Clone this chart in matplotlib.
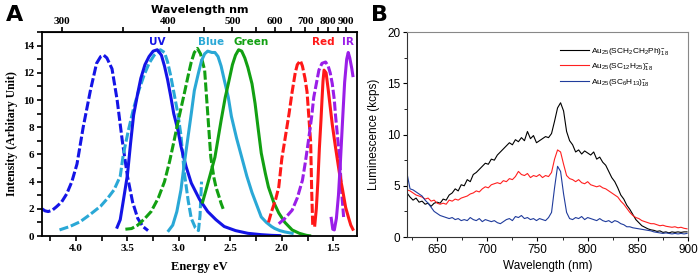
import numpy as np
import matplotlib
matplotlib.use("Agg")
import matplotlib.pyplot as plt
from matplotlib.ticker import MultipleLocator, FixedLocator

# ---------------- panel A data (energy eV, intensity a.u.) ----------------
# dashed = excitation, solid = emission
uv_ex_E = [4.33, 4.30, 4.27, 4.23, 4.19, 4.14, 4.09, 4.04, 3.99, 3.93, 3.86, 3.80, 3.76, 3.73,
           3.70, 3.65, 3.60, 3.55, 3.50, 3.45, 3.40, 3.35, 3.30]
uv_ex_I = [2.0, 1.85, 1.8, 1.9, 2.15, 2.5, 3.1, 4.0, 5.3, 8.0, 10.7, 12.7, 13.2, 13.3,
           13.1, 12.3, 10.0, 7.0, 4.4, 2.5, 1.3, 0.7, 0.4]
uv_em_E = [3.60, 3.57, 3.54, 3.50, 3.47, 3.44, 3.40, 3.37, 3.33, 3.29, 3.25, 3.21, 3.17, 3.14,
           3.11, 3.08, 3.05, 3.01, 2.98, 2.93, 2.88, 2.80, 2.72, 2.64, 2.56, 2.45, 2.33, 2.20,
           2.10, 2.02]
uv_em_I = [0.65, 1.2, 2.6, 4.5, 6.8, 8.9, 10.5, 11.6, 12.6, 13.2, 13.6, 13.7, 13.3, 12.5,
           11.5, 10.3, 9.0, 7.8, 6.6, 5.1, 3.9, 2.7, 1.8, 1.2, 0.7, 0.4, 0.2, 0.1, 0.05, 0.03]

blue_ex_E = [4.16, 4.06, 3.96, 3.86, 3.76, 3.69, 3.63, 3.57, 3.54, 3.49, 3.44, 3.39, 3.34, 3.29,
             3.24, 3.18, 3.14, 3.11, 3.08, 3.05, 3.01, 2.98, 2.95, 2.91, 2.88, 2.84, 2.81, 2.795,
             2.78]
blue_ex_I = [0.45, 0.7, 1.05, 1.6, 2.2, 2.8, 3.4, 4.4, 6.0, 7.8, 9.4, 10.7, 11.8, 12.7,
             13.3, 13.7, 13.5, 12.8, 11.8, 10.6, 9.0, 7.4, 4.8, 2.6, 1.3, 0.6, 0.4, 1.5,
             4.0]
blue_em_E = [3.10, 3.06, 3.02, 2.98, 2.95, 2.915, 2.88, 2.85, 2.81, 2.78, 2.75, 2.72, 2.68, 2.65,
             2.62, 2.59, 2.56, 2.52, 2.49, 2.44, 2.39, 2.34, 2.29, 2.24, 2.20, 2.15, 2.10, 2.07,
             2.02, 1.97, 1.90]
blue_em_I = [0.4, 0.8, 1.8, 3.4, 5.2, 7.1, 9.0, 10.7, 12.0, 12.9, 13.4, 13.6, 13.5, 13.5,
             13.2, 12.5, 11.5, 10.2, 8.8, 7.2, 5.8, 4.4, 3.2, 2.2, 1.4, 1.0, 0.7, 0.56,
             0.4, 0.3, 0.2]

green_ex_E = [3.52, 3.46, 3.40, 3.33, 3.27, 3.20, 3.14, 3.09, 3.05, 3.00, 2.95, 2.91, 2.88, 2.85,
              2.82, 2.79, 2.75, 2.72, 2.69, 2.66, 2.64, 2.61, 2.59, 2.57]
green_ex_I = [0.5, 0.55, 0.8, 1.3, 1.8, 2.8, 4.0, 5.5, 6.9, 8.7, 10.4, 11.8, 12.8, 13.5,
              13.8, 13.4, 12.2, 9.0, 5.8, 4.3, 3.6, 2.9, 2.4, 2.0]
green_em_E = [2.77, 2.74, 2.70, 2.65, 2.59, 2.55, 2.52, 2.48, 2.45, 2.42, 2.39, 2.36, 2.33, 2.29,
              2.26, 2.23, 2.20, 2.16, 2.13, 2.08, 2.03, 1.97, 1.90, 1.83, 1.76, 1.73]
green_em_I = [2.5, 3.3, 4.4, 5.8, 8.5, 10.2, 11.2, 12.6, 13.3, 13.7, 13.6, 13.1, 12.4, 11.2,
              9.75, 7.9, 6.1, 4.6, 3.6, 2.5, 1.7, 1.0, 0.45, 0.2, 0.05, 0.02]

red_ex_E = [2.13, 2.10, 2.06, 2.03, 2.00, 1.97, 1.93, 1.90, 1.87, 1.85, 1.82, 1.80, 1.775, 1.755,
            1.74, 1.72, 1.71, 1.70]
red_ex_I = [1.0, 1.8, 2.7, 3.6, 5.7, 7.1, 9.0, 10.6, 12.0, 12.6, 12.9, 12.5, 11.6, 10.6,
            9.0, 6.9, 3.3, 0.8]
red_em_E = [1.68, 1.665, 1.65, 1.635, 1.62, 1.61, 1.60, 1.59, 1.57, 1.55, 1.53, 1.51, 1.48, 1.44,
            1.41, 1.38, 1.35, 1.33, 1.31]
red_em_I = [0.8, 2.0, 4.0, 6.5, 8.5, 10.0, 11.4, 12.2, 12.0, 10.8, 9.5, 8.2, 6.6, 4.6,
            3.4, 2.1, 1.3, 0.8, 0.5]

ir_ex_E = [2.03, 1.97, 1.90, 1.85, 1.80, 1.77, 1.74, 1.71, 1.69, 1.66, 1.64, 1.61, 1.575, 1.55,
           1.53, 1.51, 1.49, 1.48, 1.46, 1.44, 1.42, 1.40]
ir_ex_I = [0.9, 1.3, 1.9, 2.8, 4.1, 5.5, 7.1, 8.8, 10.2, 11.4, 12.2, 12.7, 12.8, 12.5,
           12.0, 11.2, 10.0, 9.0, 7.4, 5.8, 3.4, 1.4]
ir_em_E = [1.52, 1.505, 1.49, 1.47, 1.45, 1.43, 1.41, 1.39, 1.37, 1.355, 1.34, 1.32, 1.31]
ir_em_I = [1.3, 0.5, 0.45, 1.3, 3.0, 5.6, 8.5, 11.3, 13.0, 13.5, 13.1, 12.3, 11.8]

top_wl_ticks = [300, 400, 500, 600, 700, 800, 900]
top_wl_minor = [350, 450, 550, 650, 750, 850]

# ---------------- panel B data (wavelength nm, kcps), 3 nm steps ----------------
wl = np.arange(620, 900, 3)
lum_ph = [4.3, 3.9, 3.6, 3.8, 3.4, 3.5, 3.2, 3.3, 3.0, 3.3,
          3.4, 3.3, 3.7, 3.6, 4.1, 4.3, 4.7, 4.5, 5.1, 5.0,
          5.6, 5.4, 6.1, 6.3, 6.6, 6.9, 7.2, 7.1, 7.6, 7.5,
          8.0, 8.3, 8.6, 8.9, 9.2, 9.0, 9.5, 9.3, 9.7, 9.4,
          10.3, 9.6, 9.9, 9.2, 9.4, 9.6, 9.8, 9.7, 10.1, 11.3,
          12.6, 13.1, 12.3, 10.3, 9.4, 9.0, 8.3, 8.5, 8.1, 8.4,
          8.2, 8.0, 8.3, 7.6, 7.8, 7.3, 7.0, 6.4, 5.8, 5.4,
          4.8, 4.1, 3.7, 3.1, 2.7, 2.2, 1.7, 1.4, 1.1, 0.95,
          0.8, 0.7, 0.65, 0.55, 0.6, 0.45, 0.5, 0.4, 0.5, 0.45,
          0.5, 0.45, 0.5, 0.5]
lum_c12 = [4.6, 4.5, 4.3, 4.1, 4.0, 3.9, 3.7, 3.8, 3.5, 3.6,
           3.3, 3.2, 3.3, 3.2, 3.6, 3.5, 3.7, 3.6, 3.8, 3.9,
           4.0, 4.2, 4.3, 4.5, 4.4, 4.7, 4.9, 4.8, 5.1, 5.2,
           5.3, 5.2, 5.5, 5.4, 5.7, 5.6, 5.9, 6.4, 6.1, 6.0,
           6.2, 5.8, 6.0, 5.9, 6.1, 5.8, 6.0, 5.9, 6.3, 7.6,
           8.5, 8.3, 7.1, 6.0, 5.7, 5.6, 5.4, 5.6, 5.3, 5.2,
           5.4, 5.1, 5.0, 4.9, 5.0, 4.8, 4.7, 4.5, 4.3, 4.1,
           3.9, 3.5, 3.2, 2.8, 2.4, 2.1, 1.9, 1.8, 1.6, 1.5,
           1.4, 1.3, 1.3, 1.2, 1.1, 1.15, 1.05, 1.0, 0.95, 1.0,
           0.9, 0.95, 0.85, 0.8]
lum_c6 = [6.2, 4.7, 4.6, 4.4, 4.2, 4.0, 3.6, 3.3, 2.9, 2.5,
          2.3, 2.1, 2.0, 1.9, 1.8, 1.9, 1.7, 1.8, 1.6, 1.7,
          1.6, 1.9, 1.7, 1.6, 1.8, 1.5, 1.7, 1.6, 1.5, 1.6,
          1.4, 1.3, 1.5, 1.7, 1.8, 1.6, 2.0, 1.9, 2.1, 1.8,
          1.9, 1.7, 1.8, 1.6, 1.8, 1.7, 1.6, 1.9, 2.4, 4.8,
          6.9, 6.4, 4.2, 2.4, 1.8, 1.7, 1.9, 1.8, 2.0, 1.7,
          1.9, 1.8, 1.7, 1.6, 1.8, 1.6, 1.5, 1.6, 1.4, 1.6,
          1.5, 1.3, 1.2, 1.0, 1.0, 0.9, 0.85, 0.8, 0.75, 0.7,
          0.65, 0.6, 0.5, 0.45, 0.4, 0.35, 0.4, 0.35, 0.3, 0.35,
          0.3, 0.35, 0.3, 0.35]
legend_labels = [r'$\mathregular{Au_{25}(SCH_2CH_2Ph)_{18}^{-}}$',
                 r'$\mathregular{Au_{25}(SC_{12}H_{25})_{18}^{-}}$',
                 r'$\mathregular{Au_{25}(SC_6H_{13})_{18}^{-}}$']

c_uv = '#1414e6'
c_blue = '#2aa8d6'
c_green = '#12a012'
c_red = '#ff1818'
c_ir = '#9a1ee8'

fig = plt.figure(figsize=(6.99, 2.79), dpi=100)

# ======================= panel A =======================
axA = fig.add_axes([0.0601, 0.154, 0.4506, 0.731])
serif = 'Liberation Serif'
lw = 2.2
dash = (3, 0.9)
curves = [(uv_ex_E, uv_ex_I, c_uv, True), (blue_ex_E, blue_ex_I, c_blue, True),
          (uv_em_E, uv_em_I, c_uv, False), (green_ex_E, green_ex_I, c_green, True),
          (blue_em_E, blue_em_I, c_blue, False), (green_em_E, green_em_I, c_green, False),
          (red_ex_E, red_ex_I, c_red, True), (ir_ex_E, ir_ex_I, c_ir, True),
          (red_em_E, red_em_I, c_red, False), (ir_em_E, ir_em_I, c_ir, False)]
for E, I, c, dashed in curves:
    if dashed:
        axA.plot(E, I, color=c, lw=lw, dashes=dash)
    else:
        axA.plot(E, I, color=c, lw=lw)

axA.set_xlim(4.33, 1.27)
axA.set_ylim(0, 15)
axA.xaxis.set_major_locator(FixedLocator([4.0, 3.5, 3.0, 2.5, 2.0, 1.5]))
axA.xaxis.set_minor_locator(MultipleLocator(0.25))
axA.yaxis.set_major_locator(MultipleLocator(2))
axA.yaxis.set_minor_locator(MultipleLocator(1))
axA.tick_params(which='both', direction='out', length=3.5, width=1.2, top=False, right=False)
axA.tick_params(axis='both', labelsize=8, pad=2)
for lab in axA.get_xticklabels() + axA.get_yticklabels():
    lab.set_fontfamily(serif)
    lab.set_fontweight('bold')
for sp in axA.spines.values():
    sp.set_linewidth(1.3)
axA.set_xlabel('Energy eV', fontfamily=serif, fontweight='bold', fontsize=9, labelpad=6)
axA.set_ylabel('Intensity (Arbitary Unit)', fontfamily=serif, fontweight='bold', fontsize=8.5, labelpad=4)

top = axA.secondary_xaxis('top', functions=(lambda e: 1240.0 / np.clip(e, 0.1, None),
                                            lambda w: 1240.0 / np.clip(w, 1, None)))
top.xaxis.set_major_locator(FixedLocator(top_wl_ticks))
top.xaxis.set_minor_locator(FixedLocator(top_wl_minor))
top.tick_params(which='both', direction='out', length=3.5, width=1.2, labelsize=8, pad=1)
for lab in top.get_xticklabels():
    lab.set_fontfamily(serif)
    lab.set_fontweight('bold')
top.set_xlabel('Wavelength nm', fontsize=8, fontweight='bold', labelpad=3)

for txt, x, c in [('UV', 3.21, c_uv), ('Blue', 2.69, c_blue), ('Green', 2.30, c_green),
                  ('Red', 1.60, c_red), ('IR', 1.36, c_ir)]:
    axA.text(x, 14.25, txt, color=c, fontsize=7.5, fontweight='bold', ha='center', va='center')

fig.text(0.021, 0.945, 'A', fontsize=16, fontweight='bold', ha='center', va='center')
fig.text(0.543, 0.945, 'B', fontsize=16, fontweight='bold', ha='center', va='center')

# ======================= panel B =======================
sans = 'Liberation Sans'
axB = fig.add_axes([0.5823, 0.1505, 0.402, 0.7345])
axB.plot(wl, lum_ph, color='black', lw=0.8, label=legend_labels[0])
axB.plot(wl, lum_c12, color='#ff2020', lw=0.8, label=legend_labels[1])
axB.plot(wl, lum_c6, color='#203c9c', lw=0.8, label=legend_labels[2])
axB.set_xlim(620, 900)
axB.set_ylim(0, 20)
axB.xaxis.set_major_locator(MultipleLocator(50))
axB.xaxis.set_minor_locator(MultipleLocator(25))
axB.yaxis.set_major_locator(MultipleLocator(5))
axB.yaxis.set_minor_locator(MultipleLocator(2.5))
axB.tick_params(which='major', direction='out', length=3, width=0.8, labelsize=8.5, pad=2)
axB.tick_params(which='minor', direction='out', length=2, width=0.6)
for lab in axB.get_xticklabels() + axB.get_yticklabels():
    lab.set_fontfamily(sans)
for name, sp in axB.spines.items():
    sp.set_linewidth(0.8)
    sp.set_color('#333333' if name in ('left', 'bottom') else '#888888')
axB.set_xlabel('Wavelength (nm)', fontfamily=sans, fontsize=8.5, labelpad=3)
axB.set_ylabel('Luminescence (kcps)', fontfamily=sans, fontsize=8.5, labelpad=5)
leg = axB.legend(loc='upper right', bbox_to_anchor=(0.96, 0.97), frameon=False,
                 handlelength=3.4, handletextpad=0.3, labelspacing=0.55,
                 prop={'family': sans, 'size': 6})

fig.savefig('out.png', dpi=100)
